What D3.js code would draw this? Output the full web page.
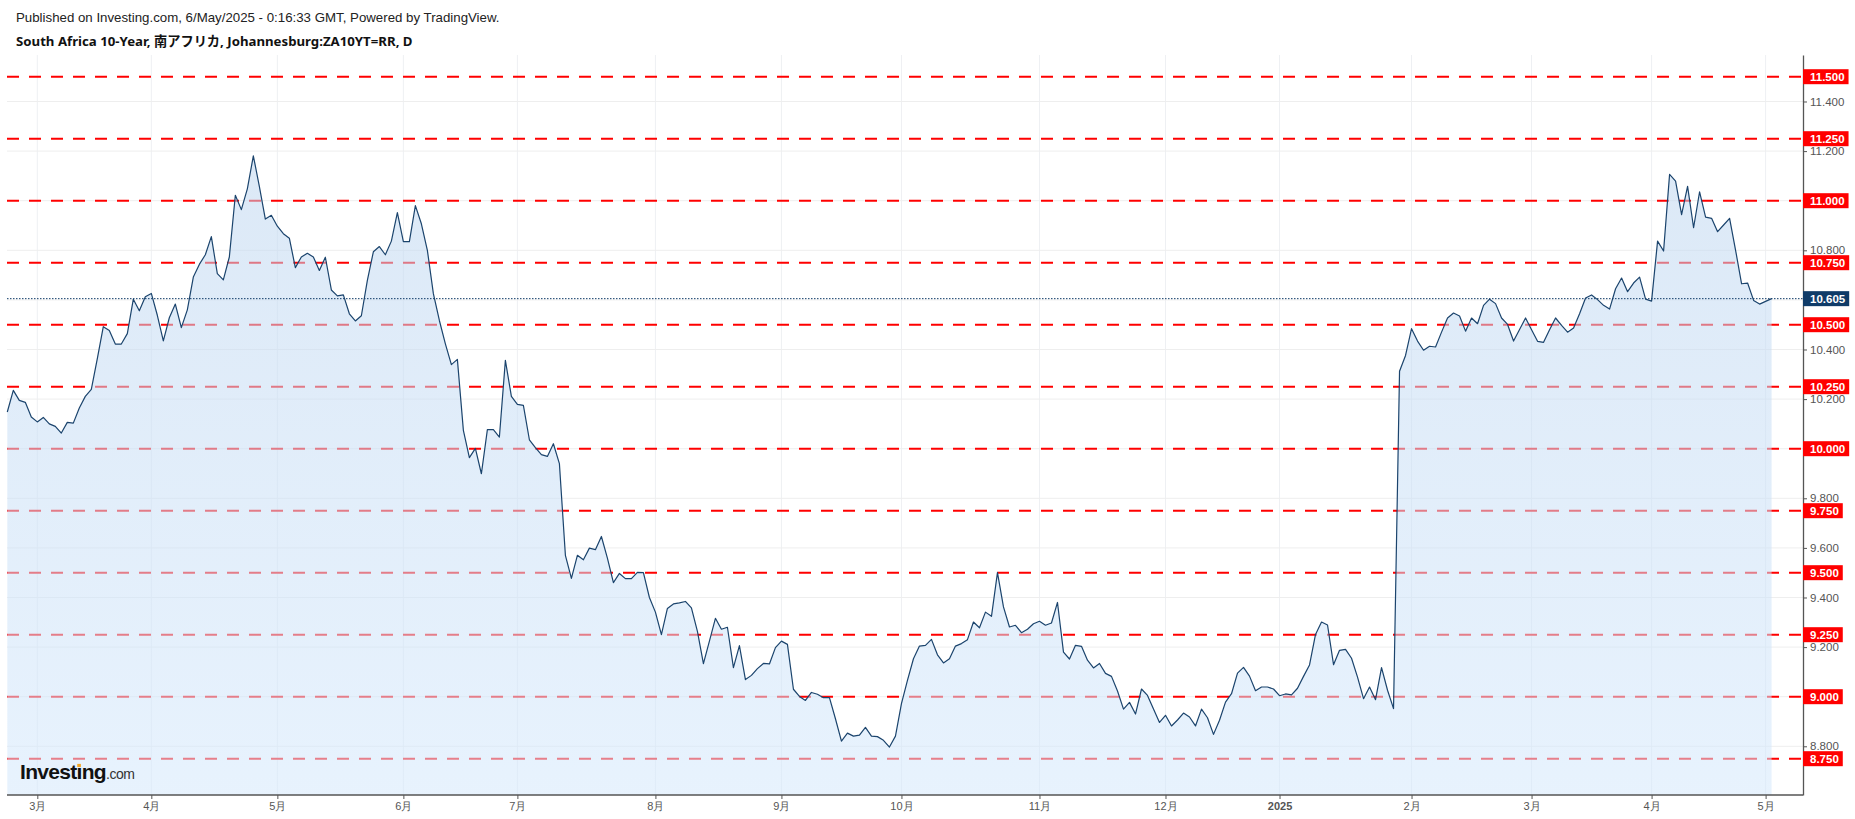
<!DOCTYPE html>
<html><head><meta charset="utf-8">
<script src="https://cdn.jsdelivr.net/npm/d3@7"></script>
<style>html,body{margin:0;padding:0;background:#fff;} svg{display:block;}</style>
</head><body>
<svg id="chart" width="1855" height="819"></svg>
<script>
// ---------------- DATA ----------------
const headerText = "Published on Investing.com, 6/May/2025 - 0:16:33 GMT, Powered by TradingView.";
const titleText = "South Africa 10-Year, 南アフリカ, Johannesburg:ZA10YT=RR, D";
const startDate = "2024-02-23";
const endDate = "2025-05-05";
const holidays = ["2024-03-21","2024-03-29","2024-04-01","2024-05-01","2024-05-29","2024-06-17",
  "2024-08-09","2024-09-24","2024-12-16","2024-12-25","2024-12-26","2025-01-01","2025-03-21",
  "2025-04-18","2025-04-21","2025-04-28","2025-05-01"];
// daily closes, Feb 23 2024 .. Dec 31 2024
const yields2024 = [
  10.148,10.235,10.195,10.187,10.128,10.108,10.126,10.100,10.090,10.063,
  10.106,10.103,10.164,10.211,10.239,10.363,10.492,10.477,10.422,10.422,
  10.464,10.603,10.556,10.613,10.626,10.538,10.435,10.528,10.583,10.488,
  10.560,10.692,10.743,10.782,10.855,10.706,10.681,10.773,11.022,10.964,
  11.048,11.181,11.058,10.926,10.941,10.897,10.867,10.849,10.730,10.773,
  10.788,10.773,10.719,10.772,10.640,10.616,10.620,10.544,10.515,10.536,
  10.679,10.794,10.815,10.782,10.837,10.952,10.835,10.835,10.980,10.907,
  10.800,10.625,10.517,10.423,10.339,10.360,10.074,9.964,10.001,9.899,
  10.077,10.077,10.047,10.356,10.211,10.179,10.175,10.036,10.004,9.976,
  9.969,10.020,9.940,9.570,9.477,9.570,9.552,9.599,9.593,9.646,
  9.559,9.460,9.497,9.476,9.476,9.501,9.500,9.400,9.341,9.250,
  9.356,9.374,9.378,9.384,9.358,9.263,9.133,9.224,9.316,9.272,
  9.280,9.117,9.206,9.069,9.086,9.113,9.134,9.132,9.198,9.224,
  9.211,9.030,9.001,8.985,9.017,9.010,8.996,8.996,8.911,8.821,
  8.853,8.841,8.845,8.876,8.841,8.839,8.824,8.797,8.841,8.972,
  9.066,9.153,9.204,9.207,9.231,9.169,9.136,9.153,9.204,9.214,
  9.230,9.301,9.278,9.341,9.324,9.500,9.362,9.281,9.288,9.258,
  9.272,9.294,9.304,9.288,9.297,9.380,9.180,9.152,9.207,9.203,
  9.147,9.116,9.134,9.094,9.082,9.023,8.950,8.977,8.930,9.031,
  9.005,8.950,8.896,8.925,8.882,8.906,8.934,8.918,8.882,8.950,
  8.915,8.848,8.905,8.978,9.012,9.095,9.118,9.083,9.024,9.039,
  9.039,9.031
];
// daily closes, Jan 2 2025 .. May 5 2025
const yields2025 = [
  9.004,9.011,9.007,9.034,9.082,9.128,9.251,9.301,9.289,9.129,
  9.187,9.191,9.155,9.079,8.992,9.039,8.988,9.117,9.026,8.952,
  10.312,10.376,10.484,10.434,10.397,10.413,10.410,10.470,10.527,10.547,
  10.535,10.474,10.527,10.504,10.578,10.603,10.585,10.527,10.501,10.434,
  10.481,10.527,10.480,10.433,10.429,10.480,10.527,10.497,10.470,10.487,
  10.544,10.608,10.620,10.601,10.578,10.563,10.645,10.688,10.633,10.668,
  10.692,10.603,10.595,10.837,10.797,11.106,11.079,10.944,11.058,10.891,
  11.036,10.934,10.929,10.875,10.902,10.929,10.800,10.665,10.668,10.598,
  10.583,10.594,10.605
];
const levelLines = [8.75, 9.00, 9.25, 9.50, 9.75, 10.00, 10.25, 10.50, 10.75, 11.00, 11.25, 11.50];
const yTicks = [8.8, 9.0, 9.2, 9.4, 9.6, 9.8, 10.0, 10.2, 10.4, 10.6, 10.8, 11.0, 11.2, 11.4];
const lastPrice = 10.605;

// ---------------- BUILD ----------------
const parse = d3.utcParse("%Y-%m-%d");
const fmt = d3.utcFormat("%Y-%m-%d");
const holidaySet = new Set(holidays);
const tradingDays = d3.utcDay.range(parse(startDate), d3.utcDay.offset(parse(endDate), 1))
  .filter(d => d.getUTCDay() !== 0 && d.getUTCDay() !== 6 && !holidaySet.has(fmt(d)))
  .map(fmt);
const values = yields2024.concat(yields2025);
const data = tradingDays.map((d, i) => ({date: d, v: values[i]})).filter(d => d.v !== undefined);

const monthStarts = tradingDays.filter((d, i) => i > 0 && d.slice(0, 7) !== tradingDays[i - 1].slice(0, 7));

const L = 7, R = 1803, T = 55, B = 795;
const svg = d3.select("#chart");

const x = d3.scalePoint().domain(tradingDays).range([7.3, 1771.6]);
const y = d3.scaleLinear().domain([8.6036, 11.5875]).range([B, T]);

const defs = svg.append("defs");
const grad = defs.append("linearGradient").attr("id", "areaGrad")
  .attr("gradientUnits", "userSpaceOnUse").attr("x1", 0).attr("x2", 0).attr("y1", T).attr("y2", B);
grad.append("stop").attr("offset", "0%").attr("stop-color", "rgb(188,212,238)").attr("stop-opacity", 0.55);
grad.append("stop").attr("offset", "100%").attr("stop-color", "rgb(212,232,252)").attr("stop-opacity", 0.55);

// grid
svg.append("g").selectAll("line").data(monthStarts).join("line")
  .attr("x1", d => x(d)).attr("x2", d => x(d)).attr("y1", T).attr("y2", B)
  .attr("stroke", "#eef0f3").attr("stroke-width", 1);
svg.append("g").selectAll("line").data(yTicks).join("line")
  .attr("x1", L).attr("x2", R).attr("y1", d => y(d)).attr("y2", d => y(d))
  .attr("stroke", "#eeeeee").attr("stroke-width", 1);

// red level lines
svg.append("g").selectAll("line").data(levelLines).join("line")
  .attr("x1", L).attr("x2", R).attr("y1", d => y(d)).attr("y2", d => y(d))
  .attr("stroke", "#ff0000").attr("stroke-width", 2).attr("stroke-dasharray", "12,10");

// area + line
svg.append("path").datum(data)
  .attr("d", d3.area().x(d => x(d.date)).y0(B).y1(d => y(d.v)))
  .attr("fill", "url(#areaGrad)");
svg.append("path").datum(data)
  .attr("d", d3.line().x(d => x(d.date)).y(d => y(d.v)))
  .attr("fill", "none").attr("stroke", "#1b446d").attr("stroke-width", 1.2).attr("stroke-linejoin", "round");

// last price dotted line
svg.append("line").attr("x1", L).attr("x2", R).attr("y1", y(lastPrice)).attr("y2", y(lastPrice))
  .attr("stroke", "#0f3b68").attr("stroke-width", 1).attr("stroke-dasharray", "1.5,1.5");

// axes
const monthName = d => { const m = +d.slice(5, 7); return m === 1 ? d.slice(0, 4) : m + "月"; };
const xAxis = svg.append("g").attr("transform", `translate(0,${B})`)
  .call(d3.axisBottom(x).tickValues(monthStarts).tickFormat(monthName).tickSize(4).tickSizeOuter(0).tickPadding(3));
xAxis.select(".domain").remove();
xAxis.selectAll(".tick line").attr("stroke", "#555");
xAxis.selectAll(".tick text").attr("fill", "#555").attr("font-size", 11)
  .attr("font-family", "'Liberation Sans', Arial, sans-serif")
  .attr("font-weight", d => d.slice(5, 7) === "01" ? "bold" : "normal");
svg.append("line").attr("x1", L).attr("x2", R).attr("y1", B).attr("y2", B).attr("stroke", "#555").attr("stroke-width", 1.3);

const yAxis = svg.append("g").attr("transform", `translate(${R},0)`)
  .call(d3.axisRight(y).tickValues(yTicks).tickFormat(d3.format(".3f")).tickSize(4).tickSizeOuter(0).tickPadding(3));
yAxis.select(".domain").attr("stroke", "#555").attr("stroke-width", 1.3);
yAxis.selectAll(".tick line").attr("stroke", "#555");
yAxis.selectAll(".tick text").attr("fill", "#555").attr("font-size", 11.5)
  .attr("font-family", "'Liberation Sans', Arial, sans-serif");

// value labels on right axis
function valueLabel(v, color) {
  const g = svg.append("g").attr("transform", `translate(${R},${y(v)})`);
  const rect = g.append("rect").attr("y", -7.5).attr("height", 15).attr("fill", color);
  const t = g.append("text").attr("x", 7).attr("dy", "0.36em").attr("fill", "#fff")
    .attr("font-size", 11.5).attr("font-weight", "bold")
    .attr("font-family", "'Liberation Sans', Arial, sans-serif").text(d3.format(".3f")(v));
  rect.attr("width", t.node().getComputedTextLength() + 11);
}
levelLines.forEach(v => valueLabel(v, "#ff0000"));
valueLabel(lastPrice, "#0f3b68");

// header
function fitWidth(sel, w) {
  const len = sel.node().getComputedTextLength();
  sel.attr("font-size", parseFloat(sel.attr("font-size")) * w / len);
}
const h1 = svg.append("text").attr("x", 16).attr("y", 22).attr("font-size", 12)
  .attr("font-family", "'Liberation Sans', Arial, sans-serif").attr("fill", "#222").text(headerText);
fitWidth(h1, 484);
const h2 = svg.append("text").attr("x", 16).attr("y", 46).attr("font-size", 13).attr("font-weight", "bold")
  .attr("font-family", "'Noto Sans', 'Noto Sans CJK JP', sans-serif").attr("fill", "#111").text(titleText);
fitWidth(h2, 397);

// logo
const logo = svg.append("text").attr("x", 20).attr("y", 779).attr("font-family", "'Liberation Sans', Arial, sans-serif");
logo.append("tspan").attr("font-size", 21).attr("font-weight", "bold").attr("fill", "#111").attr("letter-spacing", -0.7).text("Investıng");
logo.append("tspan").attr("font-size", 14).attr("fill", "#333").attr("letter-spacing", -0.4).text(".com");
const ext = logo.node().getExtentOfChar(6);
svg.append("rect").attr("x", ext.x + ext.width / 2 - 1.8).attr("y", 779 - 21 * 0.72).attr("width", 3.6).attr("height", 3.2)
  .attr("fill", "#f5a623");
</script>
</body></html>
